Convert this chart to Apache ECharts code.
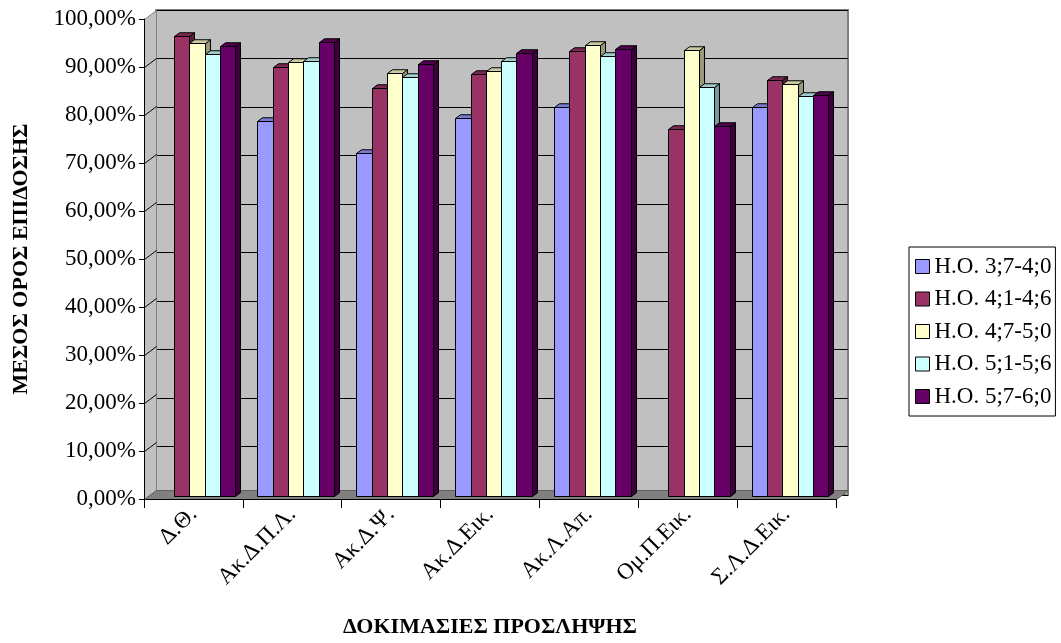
<!DOCTYPE html>
<html>
<head>
<meta charset="utf-8">
<script src="https://cdn.jsdelivr.net/npm/echarts@6/dist/echarts.min.js"></script>
<style>
  html, body { margin: 0; padding: 0; background: #ffffff; }
  #chart { width: 1061px; height: 643px; }
</style>
</head>
<body>
<div id="chart"></div>
<script>
// Test categories (x axis)
const categories = ['Δ.Θ.', 'Ακ.Δ.Π.Λ.', 'Ακ.Δ.Ψ.', 'Ακ.Δ.Εικ.', 'Ακ.Λ.Απ.', 'Ομ.Π.Εικ.', 'Σ.Λ.Δ.Εικ.'];

// Age groups (legend)
const groupNames = ['Η.Ο. 3;7-4;0', 'Η.Ο. 4;1-4;6', 'Η.Ο. 4;7-5;0', 'Η.Ο. 5;1-5;6', 'Η.Ο. 5;7-6;0'];

// Mean performance per test, in percent (null = no value)
const ho37_40 = [null, 78.2, 71.6, 78.8, 81.2, null, 81.1];
const ho41_46 = [96.0, 89.4, 85.0, 88.0, 92.7, 76.5, 86.7];
const ho47_50 = [94.5, 90.4, 88.3, 88.7, 94.0, 92.9, 86.0];
const ho51_56 = [92.2, 90.7, 87.3, 90.7, 91.7, 85.2, 83.5];
const ho57_60 = [93.9, 94.7, 90.0, 92.4, 93.3, 77.1, 83.7];

// Y axis ticks
const yMin = 0, yMax = 100, yStep = 10;

const groupValues = [ho37_40, ho41_46, ho47_50, ho51_56, ho57_60];

// Face colours: front, top, right side
const palette = [
  { front: '#9999FF', top: '#7A7ACC', side: '#5C5C99' },
  { front: '#993366', top: '#7A2952', side: '#5C1F3D' },
  { front: '#FFFFCC', top: '#CCCCA3', side: '#99997A' },
  { front: '#CCFFFF', top: '#A3CCCC', side: '#7A9999' },
  { front: '#660066', top: '#520052', side: '#3D003D' }
];

const FONT = 'Liberation Serif';
// Oblique depth of the plot box (back wall offset)
const WALL_DX = 12, WALL_DY = 9;
// Bar row: front face offset and bar depth
const BAR_FRONT_DX = 3.5, BAR_FRONT_DY = 2.6;
const BAR_DX = 5, BAR_DY = 3.75;
const BAR_FRAC = 0.155;

function fmtPct(v) {
  return v.toFixed(2).replace('.', ',') + '%';
}

const px = v => Math.round(v) + 0.5;

// Side wall, floor and side-wall grid lines
function renderWalls(params, api) {
  const cs = params.coordSys;
  const L = cs.x, R = cs.x + cs.width;
  const T = cs.y, B = cs.y + cs.height;
  const children = [
    { type: 'polygon', shape: { points: [[px(L), px(T)], [px(L + WALL_DX), px(T - WALL_DY)], [px(L + WALL_DX), px(B - WALL_DY)], [px(L), px(B)]] },
      style: { fill: '#C0C0C0', stroke: '#808080', lineWidth: 1 } },
    { type: 'polygon', shape: { points: [[px(L), px(B)], [px(L + WALL_DX), px(B - WALL_DY)], [px(R + WALL_DX), px(B - WALL_DY)], [px(R), px(B)]] },
      style: { fill: '#808080', stroke: '#606060', lineWidth: 1 } }
  ];
  for (let v = yMin + yStep; v < yMax; v += yStep) {
    const y = api.coord([0, v])[1];
    children.push({ type: 'line', shape: { x1: px(L), y1: px(y), x2: px(L + WALL_DX), y2: px(y - WALL_DY) },
      style: { stroke: '#000', lineWidth: 1 } });
  }
  return { type: 'group', children };
}

function barRenderer(k) {
  const c = palette[k];
  return function (params, api) {
    const v = api.value(1);
    if (v == null || isNaN(v)) return null;
    const i = api.value(0);
    const base = api.coord([i, 0]);
    const top = api.coord([i, v]);
    const band = api.size([1, 0])[0];
    const bw = band * BAR_FRAC;
    const cx = base[0] + BAR_FRONT_DX;
    const x0 = px(cx - 2.5 * bw + k * bw);
    const x1 = px(cx - 2.5 * bw + (k + 1) * bw);
    const yb = px(base[1] - BAR_FRONT_DY);
    const yt = px(top[1] - BAR_FRONT_DY);
    return {
      type: 'group',
      children: [
        { type: 'polygon', shape: { points: [[x1, yt], [x1 + BAR_DX, yt - BAR_DY], [x1 + BAR_DX, yb - BAR_DY], [x1, yb]] },
          style: { fill: c.side, stroke: '#000', lineWidth: 1 } },
        { type: 'polygon', shape: { points: [[x0, yt], [x0 + BAR_DX, yt - BAR_DY], [x1 + BAR_DX, yt - BAR_DY], [x1, yt]] },
          style: { fill: c.top, stroke: '#000', lineWidth: 1 } },
        { type: 'rect', shape: { x: x0, y: yt, width: x1 - x0, height: yb - yt },
          style: { fill: c.front, stroke: '#000', lineWidth: 1 } }
      ]
    };
  };
}

const barSeries = groupNames.map((name, k) => ({
  name,
  type: 'custom',
  xAxisIndex: 0,
  yAxisIndex: 0,
  z: 5,
  renderItem: barRenderer(k),
  itemStyle: { color: palette[k].front, borderColor: '#000', borderWidth: 1 },
  encode: { x: 0, y: 1 },
  data: groupValues[k].map((v, i) => [i, v]).filter(d => d[1] != null)
}));

const chart = echarts.init(document.getElementById('chart'), null, { renderer: 'canvas' });

chart.setOption({
  backgroundColor: '#ffffff',
  animation: false,
  textStyle: { fontFamily: FONT },
  grid: [
    // front plane (axes)
    { left: 144, right: 225, top: 19, bottom: 139, containLabel: false },
    // back wall
    { left: 144 + WALL_DX, right: 225 - WALL_DX, top: 19 - WALL_DY, bottom: 139 + WALL_DY,
      show: true, backgroundColor: '#C0C0C0', borderColor: '#808080', borderWidth: 2 }
  ],
  legend: {
    orient: 'vertical',
    left: 909,
    top: 247,
    data: groupNames,
    icon: 'rect',
    itemWidth: 14,
    itemHeight: 14,
    itemGap: 9.5,
    padding: [8, 4, 8, 6],
    borderColor: '#000',
    borderWidth: 1,
    backgroundColor: '#ffffff',
    itemStyle: { borderColor: '#000', borderWidth: 1 },
    textStyle: { fontFamily: FONT, fontSize: 23, color: '#000' }
  },
  xAxis: [
    {
      type: 'category',
      gridIndex: 0,
      data: categories,
      name: 'ΔΟΚΙΜΑΣΙΕΣ ΠΡΟΣΛΗΨΗΣ',
      nameLocation: 'middle',
      nameGap: 117,
      nameTextStyle: { fontFamily: FONT, fontSize: 22, fontWeight: 'bold', color: '#000' },
      axisLine: { show: true, lineStyle: { color: '#000', width: 1 } },
      axisTick: { show: true, alignWithLabel: false, interval: 0, length: 9, lineStyle: { color: '#000' } },
      axisLabel: { interval: 0, rotate: 45, margin: 12, fontFamily: FONT, fontSize: 23, color: '#000' },
      splitLine: { show: false },
      z: 10
    },
    {
      type: 'category',
      gridIndex: 1,
      data: categories,
      show: false
    }
  ],
  yAxis: [
    {
      type: 'value',
      gridIndex: 0,
      min: yMin,
      max: yMax,
      interval: yStep,
      name: 'ΜΕΣΟΣ ΟΡΟΣ ΕΠΙΔΟΣΗΣ',
      nameLocation: 'middle',
      nameGap: 112,
      nameRotate: 90,
      nameTextStyle: { fontFamily: FONT, fontSize: 22, fontWeight: 'bold', color: '#000' },
      axisLine: { show: true, lineStyle: { color: '#000', width: 1 } },
      axisTick: { show: true, inside: false, length: 5, lineStyle: { color: '#000' } },
      axisLabel: { margin: 8, fontFamily: FONT, fontSize: 23, color: '#000', formatter: fmtPct },
      splitLine: { show: false },
      z: 10
    },
    {
      type: 'value',
      gridIndex: 1,
      min: yMin,
      max: yMax,
      interval: yStep,
      axisLine: { show: false },
      axisTick: { show: false },
      axisLabel: { show: false },
      splitLine: { show: true, lineStyle: { color: '#000', width: 1 } }
    }
  ],
  series: [
    {
      name: 'walls',
      type: 'custom',
      xAxisIndex: 0,
      yAxisIndex: 0,
      z: 1,
      silent: true,
      renderItem: renderWalls,
      encode: { x: 0, y: 1 },
      data: [[0, 0]]
    }
  ].concat(barSeries)
});
</script>
</body>
</html>
